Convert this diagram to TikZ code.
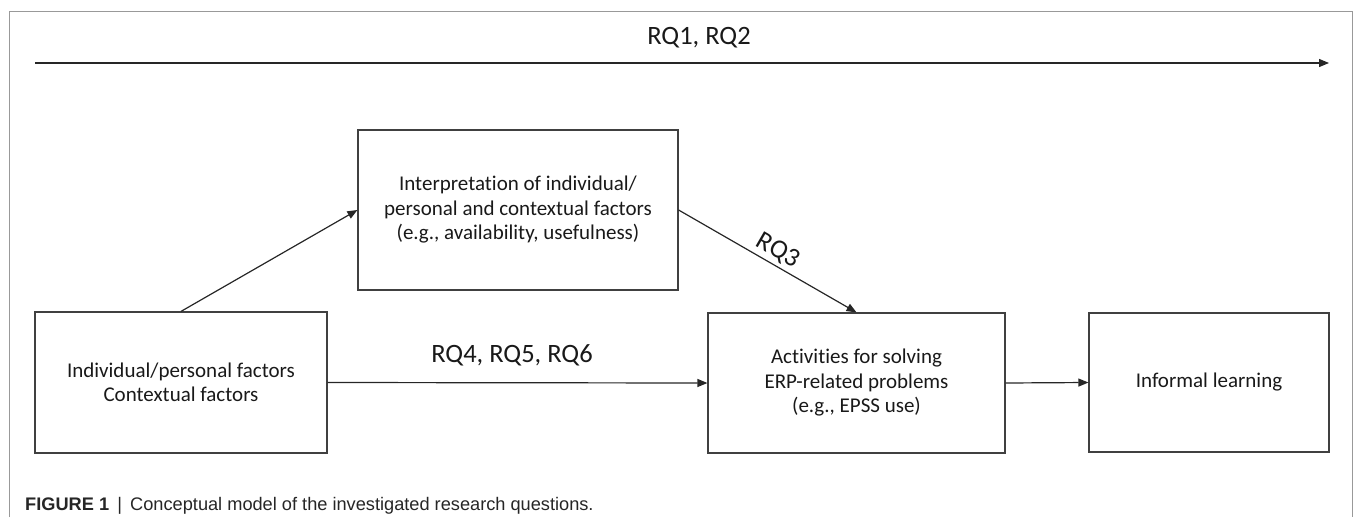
\documentclass[tikz,border=0pt]{standalone}
\usepackage{fontspec}
\setmainfont{Carlito}[Ligatures=NoCommon]
\newfontfamily\capfont{Liberation Sans}
\usetikzlibrary{arrows.meta}
\tikzset{
  boxnode/.style={draw=black!75, line width=1.2pt, align=center, inner sep=0pt,
    font=\fontsize{21}{24.5}\selectfont, text=black!90},
  conn/.style={draw=black!85, line width=1.2pt, -{Triangle[length=10pt,width=8pt]}},
  rqlabel/.style={font=\fontsize{26.5}{31}\selectfont, text=black!90, inner sep=3pt},
  frameline/.style={draw=black!40, line width=1pt}
}
\begin{document}
\begin{tikzpicture}[x=1pt,y=-1pt]
\useasboundingbox (0,0) rectangle (1357,517);
\draw[frameline] (9,517) -- (9,11) -- (1352.5,11) -- (1352.5,517);

% top arrow
\coordinate (ts) at (35,63);
\coordinate (te) at (1329,63);
\draw[conn] (ts) -- (te);
\node[rqlabel] (rq12) at (699,38) {RQ1, RQ2};

% boxes
\node[boxnode, minimum width=292pt, minimum height=141pt] (ind) at (181,382.5)
  {Individual/personal factors\\Contextual factors};
\node[boxnode, minimum width=320pt, minimum height=160pt] (interp) at (518,210)
  {Interpretation of individual/\\personal and contextual factors\\(e.g., availability, usefulness)};
\node[boxnode, minimum width=297pt, minimum height=140pt] (act) at (856.5,383)
  {Activities for solving\\ERP-related problems\\(e.g., EPSS use)};
\node[boxnode, minimum width=240pt, minimum height=139pt] (inf) at (1209,382.5)
  {Informal learning};

% connectors
\draw[conn] (interp.east) -- node[rqlabel, pos=0.52, above, sloped] (rq3) {RQ3} (act.north);
\draw[conn] (ind.north) -- (interp.west);
\draw[conn] (ind.east) -- (act.west);
\draw[conn] (act.east) -- (inf.west);
\node[rqlabel] (rq456) at (512,355) {RQ4, RQ5, RQ6};

% caption
\node[anchor=base west, inner sep=0pt, font=\capfont\fontsize{18.2}{21}\selectfont, text=black!85] (cap) at (25,510)
  {\textbf{FIGURE 1}\hspace{0.45em}|\hspace{0.45em}Conceptual model of the investigated research questions.};
\end{tikzpicture}
\end{document}
